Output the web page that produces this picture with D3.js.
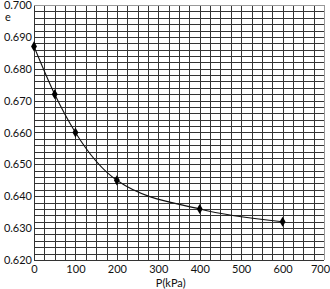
<!DOCTYPE html>
<html>
<head>
<meta charset="utf-8">
<script src="https://cdn.jsdelivr.net/npm/d3@7"></script>
<style>
  body { margin: 0; background: #fff; }
  text { font-family: Lato, sans-serif; fill: #111; }
</style>
</head>
<body>
<div id="chart"></div>
<script>
// pressure (kPa) vs void ratio e
const pressure = [0, 50, 100, 200, 400, 600];
const voidRatio = [0.687, 0.672, 0.660, 0.645, 0.636, 0.632];
const xTicks = [0, 100, 200, 300, 400, 500, 600, 700];
const yTicks = [0.620, 0.630, 0.640, 0.650, 0.660, 0.670, 0.680, 0.690, 0.700];

const width = 330, height = 289;
const margin = { top: 5, right: 6, bottom: 29, left: 34 };
const innerW = width - margin.left - margin.right;
const innerH = height - margin.top - margin.bottom;

const svg = d3.select("#chart").append("svg")
    .attr("width", width).attr("height", height);
const g = svg.append("g").attr("transform", `translate(${margin.left},${margin.top})`);

const x = d3.scaleLinear().domain([0, 700]).range([0, innerW]);
const y = d3.scaleLinear().domain([0.62, 0.70]).range([innerH, 0]);

// fine grid: 25 kPa x 0.002
const gridX = d3.range(0, 701, 25);
const gridY = d3.range(0, 41).map(i => 0.62 + i * 0.002);

g.selectAll("line.gx").data(gridX).join("line").attr("class", "gx")
    .attr("x1", d => Math.round(x(d)) + 0.5).attr("x2", d => Math.round(x(d)) + 0.5)
    .attr("y1", 0).attr("y2", innerH)
    .attr("stroke", d => d === 700 ? "#999" : "#333").attr("stroke-width", 1);
g.selectAll("line.gy").data(gridY).join("line").attr("class", "gy")
    .attr("y1", d => Math.round(y(d)) + 0.5).attr("y2", d => Math.round(y(d)) + 0.5)
    .attr("x1", 0).attr("x2", innerW)
    .attr("stroke", (d, i) => i === 40 ? "#999" : "#333").attr("stroke-width", 1);

// axes
const xAxis = g.append("g").attr("transform", `translate(0,${innerH})`)
    .call(d3.axisBottom(x).tickValues(xTicks).tickSize(0).tickPadding(5).tickFormat(d3.format("d")));
xAxis.select(".domain").remove();
xAxis.selectAll("text").style("font-size", "11px").style("font-family", "Lato");
xAxis.selectAll("text").filter(d => d === 700).attr("dx", "-4");

const yAxis = g.append("g")
    .call(d3.axisLeft(y).tickValues(yTicks).tickSize(0).tickPadding(2).tickFormat(d3.format(".3f")));
yAxis.select(".domain").remove();
yAxis.selectAll("text").style("font-size", "11px").style("font-family", "Lato");

// labels
svg.append("text").attr("x", 5).attr("y", 21).style("font-size", "11px").text("e");
svg.append("text").attr("x", margin.left + x(330)).attr("y", 287)
    .attr("text-anchor", "middle").style("font-size", "11px").text("P(kPa)");

// curve
const pts = pressure.map((p, i) => [p, voidRatio[i]]);
const line = d3.line().x(d => x(d[0])).y(d => y(d[1])).curve(d3.curveMonotoneX);
g.append("path").datum(pts).attr("d", line)
    .attr("fill", "none").attr("stroke", "#111").attr("stroke-width", 1.1);

g.selectAll("path.pt").data(pts).join("path").attr("class", "pt")
    .attr("transform", d => `translate(${x(d[0])},${y(d[1])})`)
    .attr("d", d3.symbol(d3.symbolDiamond, 30))
    .attr("fill", "#000");
</script>
</body>
</html>
